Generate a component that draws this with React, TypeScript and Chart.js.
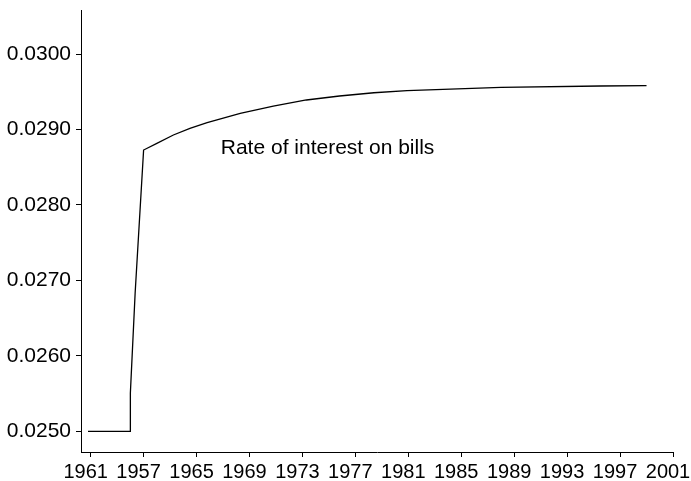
import React, { useEffect, useRef } from 'react';
import { Chart, registerables } from 'chart.js';

Chart.register(...registerables);

const years = [1956.8, 1960.0, 1960.0, 1960.36, 1961.0, 1962.0, 1963.25, 1964.5, 1965.8, 1968.3, 1970.8, 1973.3, 1975.8, 1978.4, 1980.9, 1988.0, 1995.5, 1999.0];
const rates = [0.025, 0.025, 0.02551, 0.02683, 0.028728, 0.028817, 0.028927, 0.029016, 0.02909, 0.029215, 0.029311, 0.029391, 0.029444, 0.029487, 0.029514, 0.029559, 0.029576, 0.02958];

const xTickValues = [1957, 1961, 1965, 1969, 1973, 1977, 1981, 1985, 1989, 1993, 1997, 2001];
const xTickLabels = ['1961', '1957', '1965', '1969', '1973', '1977', '1981', '1985', '1989', '1993', '1997', '2001'];
const yTickValues = [0.025, 0.026, 0.027, 0.028, 0.029, 0.03];

const annotationText = 'Rate of interest on bills';
const annotationX = 1966.83;
const annotationY = 0.028675;

const FONT = '"Liberation Sans", Arial, Helvetica, sans-serif';

export default function App() {
  const canvasRef = useRef<HTMLCanvasElement | null>(null);

  useEffect(() => {
    const canvas = canvasRef.current;
    if (!canvas) return;

    const annotationPlugin = {
      id: 'annotationText',
      afterDatasetsDraw(chart: any) {
        const { ctx, scales } = chart;
        const px = scales.x.getPixelForValue(annotationX);
        const py = scales.y.getPixelForValue(annotationY);
        ctx.save();
        ctx.font = `21px ${FONT}`;
        ctx.fillStyle = '#000';
        ctx.textAlign = 'left';
        ctx.textBaseline = 'alphabetic';
        ctx.fillText(annotationText, px, py);
        ctx.restore();
      },
    };

    const chart = new Chart(canvas, {
      type: 'line',
      data: {
        datasets: [
          {
            data: years.map((x, i) => ({ x, y: rates[i] })),
            borderColor: '#000',
            borderWidth: 1.3,
            pointRadius: 0,
            tension: 0,
            fill: false,
          },
        ],
      },
      options: {
        responsive: false,
        animation: false,
        events: [],
        layout: { padding: { left: 0, top: 10, right: 18, bottom: 0 } },
        plugins: {
          legend: { display: false },
          tooltip: { enabled: false },
        },
        scales: {
          x: {
            type: 'linear',
            min: 1956.27,
            max: 2001,
            afterBuildTicks: (scale: any) => {
              scale.ticks = xTickValues.map((v) => ({ value: v }));
            },
            afterFit: (scale: any) => {
              scale.height = 29;
              scale.paddingLeft = 0;
              scale.paddingRight = 0;
            },
            ticks: {
              autoSkip: false,
              maxRotation: 0,
              minRotation: 0,
              padding: 5,
              labelOffset: -5,
              color: '#000',
              font: { family: FONT, size: 20, lineHeight: 1 },
              callback: (_v: any, index: number) => xTickLabels[index],
            },
            grid: {
              display: true,
              drawOnChartArea: false,
              drawTicks: true,
              tickLength: 5,
              color: '#000',
            },
            border: { display: true, color: '#000', width: 1 },
          },
          y: {
            type: 'linear',
            min: 0.024728,
            max: 0.030583,
            afterBuildTicks: (scale: any) => {
              scale.ticks = yTickValues.map((v) => ({ value: v }));
            },
            afterFit: (scale: any) => {
              scale.width = 81;
              scale.paddingTop = 0;
              scale.paddingBottom = 0;
            },
            ticks: {
              padding: 5,
              color: '#000',
              font: { family: FONT, size: 21, lineHeight: 1 },
              callback: (v: any) => Number(v).toFixed(4),
            },
            grid: {
              display: true,
              drawOnChartArea: false,
              drawTicks: true,
              tickLength: 5,
              color: '#000',
            },
            border: { display: true, color: '#000', width: 1 },
          },
        },
      },
      plugins: [annotationPlugin],
    });

    return () => {
      chart.destroy();
    };
  }, []);

  return (
    <div style={{ position: 'fixed', left: 0, top: 0, width: 691, height: 481, background: '#fff' }}>
      <canvas ref={canvasRef} width={691} height={481} style={{ display: 'block' }} />
    </div>
  );
}
